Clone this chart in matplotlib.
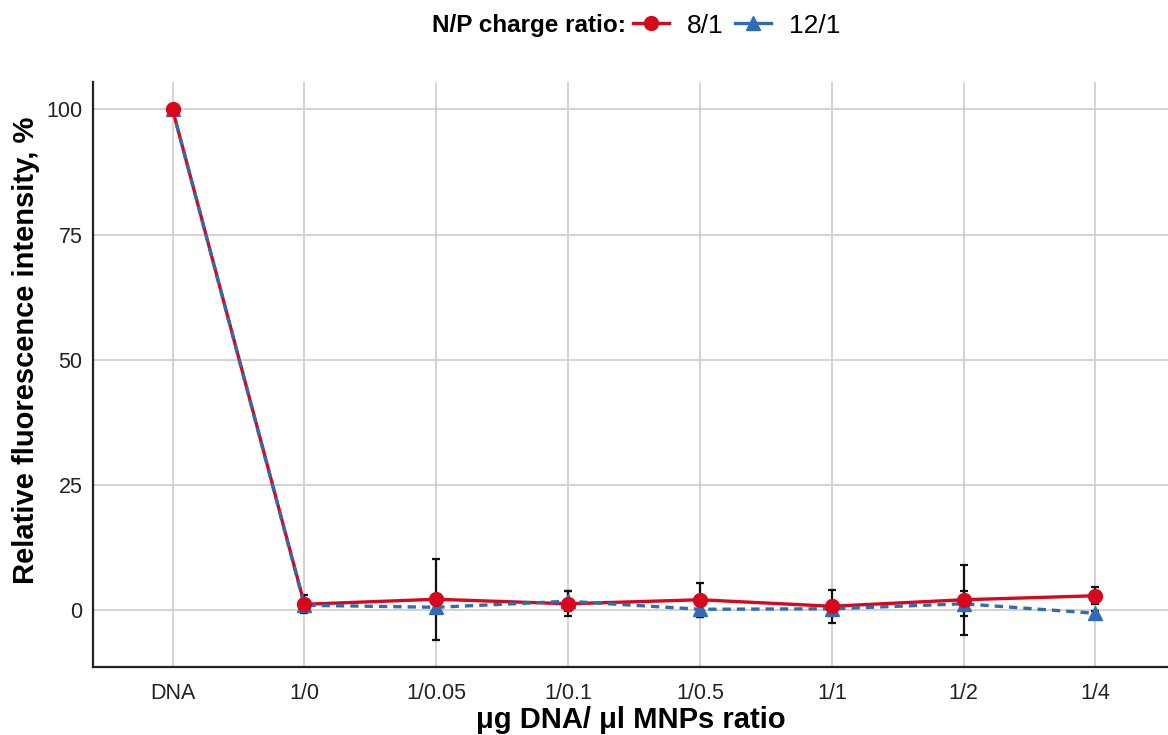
import matplotlib.pyplot as plt
import numpy as np
from matplotlib.lines import Line2D

plt.rcParams['font.family'] = ['Liberation Sans', 'DejaVu Sans']

# data
ratios = ['DNA', '1/0', '1/0.05', '1/0.1', '1/0.5', '1/1', '1/2', '1/4']
np8 = [100, 1.2, 2.2, 1.3, 2.1, 0.8, 2.1, 2.9]
np8_err = [0, 1.8, 8.1, 2.5, 3.4, 3.3, 7.0, 1.7]
np12 = [100, 1.0, 0.6, 1.8, 0.2, 0.3, 1.3, -0.6]
np12_err = [0, 1.0, 1.0, 2.0, 1.5, 1.5, 2.5, 0.5]
yticks = [0, 25, 50, 75, 100]

red = '#D7081E'
blue = '#2E6DB4'

fig = plt.figure(figsize=(11.68, 7.35), dpi=100)
ax = fig.add_axes([0.08, 0.092, 0.92, 0.796])

x = np.arange(len(ratios))

ax.errorbar(x, np12, yerr=np12_err, fmt='none', ecolor='#111111', elinewidth=1.6, capsize=3, capthick=1.6, zorder=3)
ax.errorbar(x, np8, yerr=np8_err, fmt='none', ecolor='#111111', elinewidth=1.6, capsize=3, capthick=1.6, zorder=3)
# lines first (blue dashes over red), then markers (red over blue)
ax.plot(x, np8, color=red, lw=2.4, zorder=4)
ax.plot(x, np12, color=blue, lw=2.4, ls=(0, (2.5, 1.8)), zorder=4.5)
ax.plot(x, np12, color=blue, ls='none', marker='^', ms=10, zorder=5)
ax.plot(x, np8, color=red, ls='none', marker='o', ms=10, zorder=5.5)

ax.set_xlim(-0.6, 7.55)
ax.set_ylim(-11.4, 105.4)
ax.set_xticks(x, labels=ratios)
ax.set_yticks(yticks)
ax.tick_params(labelsize=15.5, length=0, pad=8, colors='#222222')
ax.tick_params(axis='x', pad=11)
ax.grid(True, color='#d0d0d0', lw=1.3)
ax.set_axisbelow(True)
for s in ['top', 'right']:
    ax.spines[s].set_visible(False)
for s in ['left', 'bottom']:
    ax.spines[s].set_linewidth(1.6)
    ax.spines[s].set_color('#222222')

ax.set_xlabel('\u03bcg DNA/ \u03bcl MNPs ratio', fontsize=21, fontweight='bold', labelpad=2)
ax.set_ylabel('Relative fluorescence intensity, %', fontsize=21, fontweight='bold')
ax.yaxis.set_label_coords(-0.05, 0.542)

# legend on top, title inline on the left
handles = [Line2D([], [], color=red, lw=2.4, marker='o', ms=10),
           Line2D([], [], color=blue, lw=2.4, marker='^', ms=10)]
fig.text(0.536, 0.965, 'N/P charge ratio:', fontsize=17.5, fontweight='bold', ha='right', va='center')
fig.legend(handles, ['8/1', '12/1'], loc='center left', bbox_to_anchor=(0.542, 0.965),
           ncol=2, frameon=False, fontsize=19, handlelength=1.36, columnspacing=0.45, handletextpad=0.68,
           borderaxespad=0, borderpad=0)

fig.savefig('out.png', dpi=100)
